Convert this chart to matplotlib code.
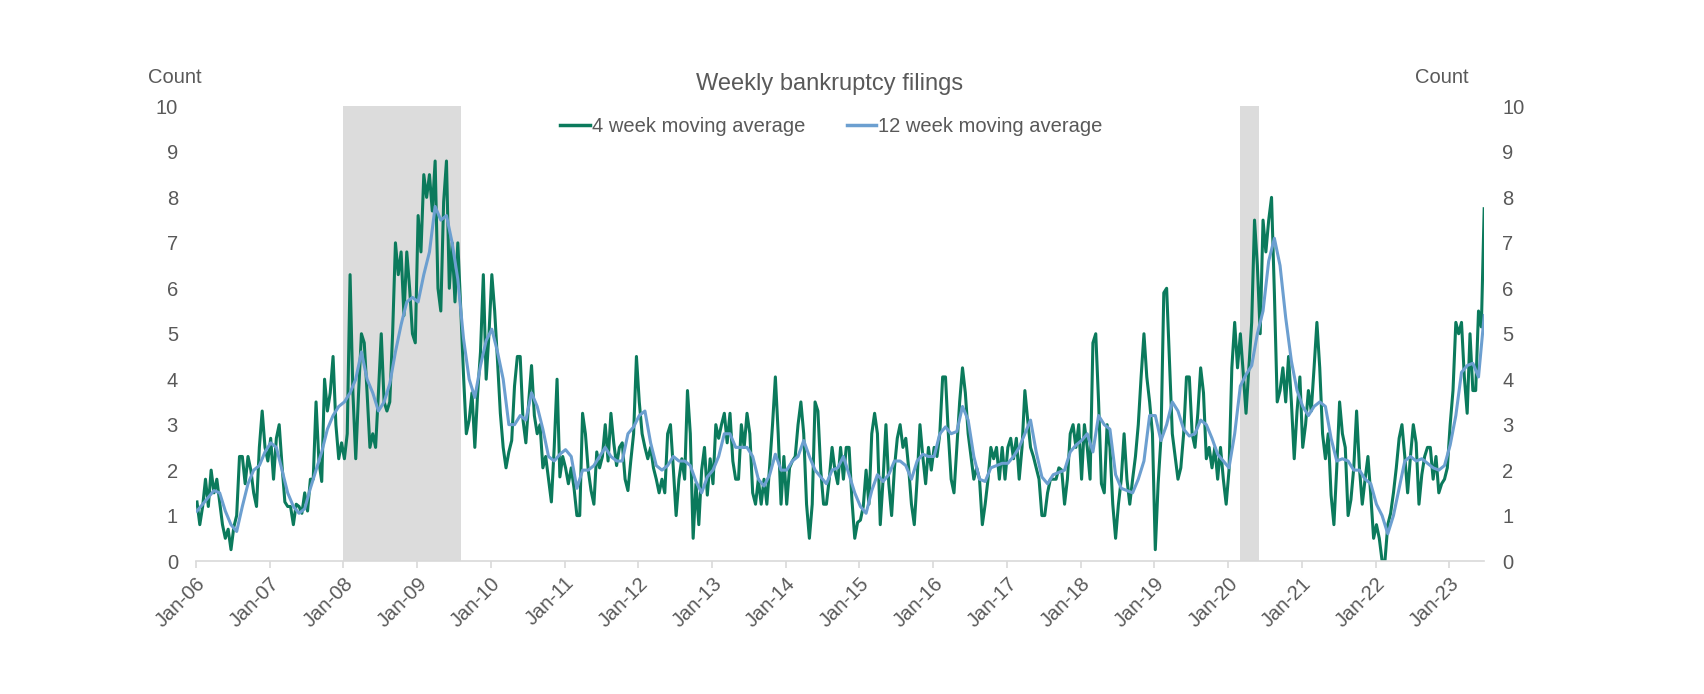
import matplotlib
matplotlib.use('Agg')
import matplotlib.pyplot as plt
import matplotlib.dates as mdates
import pandas as pd

plt.rcParams['font.family'] = ['Liberation Sans', 'DejaVu Sans']

# 4 week moving average, read off roughly every two weeks (one row per year)
ma4 = [
    1.3, 0.8, 1.2, 1.8, 1.2, 2.0, 1.5, 1.8, 1.3, 0.8, 0.5, 0.7, 0.25, 0.75, 1.0, 2.3, 2.3, 1.7, 2.3, 2.0, 1.5, 1.2, 2.5, 3.3, 2.5, 2.2,
    2.7, 1.8, 2.7, 3.0, 2.1, 1.3, 1.2, 1.2, 0.8, 1.25, 1.2, 1.05, 1.5, 1.1, 1.8, 1.8, 3.5, 2.2, 1.75, 4.0, 3.3, 3.7, 4.5, 3.0, 2.25, 2.6,
    2.25, 2.8, 6.3, 3.7, 2.25, 3.7, 5.0, 4.8, 3.7, 2.5, 2.8, 2.5, 3.7, 5.0, 3.5, 3.3, 3.5, 5.0, 7.0, 6.3, 6.8, 5.4, 6.8, 6.0, 5.0, 4.8,
    7.6, 6.8, 8.5, 8.0, 8.5, 7.7, 8.8, 6.0, 5.5, 7.9, 8.8, 6.0, 7.0, 5.7, 7.0, 5.6, 4.1, 2.8, 3.1, 3.7, 2.5, 3.7, 4.6, 6.3, 4.0, 5.0,
    6.3, 5.5, 4.4, 3.25, 2.5, 2.05, 2.4, 2.65, 3.85, 4.5, 4.5, 3.1, 2.6, 3.5, 4.3, 3.2, 2.8, 3.0, 2.05, 2.3, 1.8, 1.3, 2.5, 4.0, 1.85, 2.3,
    2.05, 1.7, 2.05, 1.6, 1.0, 1.0, 3.25, 2.8, 2.0, 1.55, 1.25, 2.4, 2.05, 2.3, 3.0, 2.2, 3.25, 2.6, 2.1, 2.5, 2.6, 1.8, 1.55, 2.2, 2.8, 4.5,
    3.5, 2.8, 2.5, 2.25, 2.5, 2.05, 1.8, 1.5, 1.8, 1.5, 2.8, 3.0, 2.05, 1.0, 1.8, 2.25, 1.8, 3.75, 2.8, 0.5, 1.7, 0.8, 2.0, 2.5, 1.45, 2.25,
    1.7, 3.0, 2.7, 3.0, 3.25, 2.6, 3.25, 2.2, 1.8, 1.8, 3.0, 2.5, 3.25, 2.8, 1.5, 1.25, 1.8, 1.25, 1.8, 1.25, 2.1, 3.0, 4.05, 2.8, 1.25, 2.3,
    1.25, 2.05, 2.2, 2.3, 3.0, 3.5, 2.8, 1.25, 0.5, 1.25, 3.5, 3.3, 2.0, 1.25, 1.25, 1.8, 2.5, 2.0, 1.7, 2.5, 1.8, 2.5, 2.5, 1.35, 0.5, 0.85,
    0.9, 1.2, 2.0, 1.25, 2.8, 3.25, 2.8, 0.8, 1.8, 3.0, 1.7, 1.0, 2.05, 2.7, 3.0, 2.5, 2.7, 2.05, 1.25, 0.8, 1.8, 3.0, 2.3, 1.7, 2.5, 2.0,
    2.5, 2.3, 2.8, 4.05, 4.05, 2.8, 1.8, 1.5, 2.5, 3.5, 4.25, 3.7, 2.8, 2.3, 1.8, 2.05, 1.8, 0.8, 1.25, 1.8, 2.5, 2.25, 2.5, 1.8, 2.5, 1.8,
    2.5, 2.7, 2.25, 2.7, 1.8, 2.5, 3.75, 3.1, 2.5, 2.3, 2.05, 1.8, 1.0, 1.0, 1.5, 1.8, 1.8, 1.8, 2.05, 2.0, 1.25, 1.8, 2.8, 3.0, 2.5, 3.0,
    1.8, 3.0, 2.5, 1.8, 4.8, 5.0, 3.5, 1.7, 1.5, 3.0, 2.5, 1.25, 0.5, 1.25, 1.8, 2.8, 1.8, 1.25, 1.8, 2.3, 3.0, 4.05, 5.0, 4.05, 3.5, 2.8,
    0.25, 1.7, 2.7, 5.9, 6.0, 4.4, 2.8, 2.3, 1.8, 2.05, 2.8, 4.05, 4.05, 2.8, 2.5, 3.25, 4.25, 3.7, 2.25, 2.5, 2.05, 2.5, 1.8, 2.5, 1.8, 1.25,
    2.0, 4.25, 5.25, 4.25, 5.0, 4.15, 3.25, 4.25, 5.25, 7.5, 6.5, 5.0, 7.5, 6.8, 7.5, 8.0, 5.9, 3.5, 3.75, 4.25, 3.5, 4.5, 3.5, 2.25, 3.3, 4.05,
    2.5, 3.0, 3.75, 3.3, 4.25, 5.25, 4.25, 2.8, 2.25, 2.8, 1.45, 0.8, 2.05, 3.5, 2.8, 2.5, 1.0, 1.35, 2.05, 3.3, 2.05, 1.25, 1.8, 2.3, 1.45, 0.5,
    0.8, 0.5, 0.0, 0.0, 0.8, 1.05, 1.5, 2.05, 2.7, 3.0, 2.3, 1.5, 2.3, 3.0, 2.6, 1.25, 1.9, 2.3, 2.5, 2.5, 1.8, 2.3, 1.5, 1.7, 1.8, 2.05,
    3.0, 3.75, 5.25, 5.0, 5.25, 4.05, 3.25, 5.0, 3.75, 3.75, 5.5, 5.15, 7.75,
]

# 12 week moving average, read off roughly every four weeks
ma12 = [
    1.1, 1.25, 1.4, 1.55, 1.5, 1.1, 0.8, 0.65, 1.2, 1.7, 2.0, 2.1, 2.4,
    2.6, 2.5, 2.0, 1.5, 1.2, 1.05, 1.15, 1.6, 2.0, 2.4, 2.9, 3.2, 3.4,
    3.5, 3.7, 4.0, 4.6, 4.0, 3.7, 3.3, 3.5, 3.9, 4.6, 5.2, 5.7, 5.8,
    5.7, 6.3, 6.8, 7.8, 7.5, 7.6, 7.0, 6.2, 4.9, 4.0, 3.6, 4.3, 4.85,
    5.1, 4.6, 4.0, 3.0, 3.0, 3.2, 3.1, 3.7, 3.4, 2.9, 2.3, 2.2, 2.35,
    2.45, 2.3, 1.6, 2.0, 2.0, 2.1, 2.3, 2.5, 2.3, 2.2, 2.2, 2.8, 2.95,
    3.2, 3.3, 2.6, 2.1, 2.0, 2.1, 2.3, 2.2, 2.2, 2.1, 1.75, 1.5, 1.85,
    2.0, 2.3, 2.8, 2.8, 2.5, 2.5, 2.5, 2.3, 1.8, 1.65, 1.9, 2.35, 2.0,
    2.0, 2.2, 2.3, 2.65, 2.3, 2.0, 1.85, 1.7, 2.0, 2.05, 2.3, 1.9, 1.5,
    1.2, 1.05, 1.55, 1.9, 1.75, 1.9, 2.2, 2.2, 2.1, 1.8, 2.2, 2.35, 2.3,
    2.3, 2.8, 2.95, 2.8, 2.85, 3.4, 3.1, 2.3, 1.8, 1.75, 2.05, 2.1, 2.15,
    2.15, 2.3, 2.5, 2.8, 3.1, 2.4, 1.85, 1.7, 1.9, 1.95, 2.0, 2.4, 2.55,
    2.65, 2.8, 2.4, 3.2, 3.0, 2.9, 1.9, 1.6, 1.55, 1.5, 1.8, 2.2, 3.2,
    3.2, 2.65, 3.0, 3.5, 3.3, 2.9, 2.75, 2.8, 3.1, 3.0, 2.7, 2.35, 2.2,
    2.05, 2.8, 3.85, 4.1, 4.3, 5.0, 5.5, 6.6, 7.1, 6.5, 5.35, 4.4, 3.75,
    3.4, 3.2, 3.4, 3.5, 3.4, 2.7, 2.2, 2.25, 2.2, 2.0, 2.0, 1.8, 1.7,
    1.25, 1.0, 0.6, 1.0, 1.6, 2.2, 2.3, 2.2, 2.25, 2.15, 2.05, 2.0, 2.1,
    2.55, 3.2, 4.15, 4.3, 4.35, 4.05, 5.4,
]

first_week = '2006-01-06'
last_week = '2023-06-23'
shaded = [('2008-01-01', '2009-08-05'), ('2020-03-01', '2020-06-01')]

dates4 = pd.date_range(first_week, last_week, periods=len(ma4))
dates12 = pd.date_range(first_week, last_week, periods=len(ma12))

grey = '#595959'
green = '#0B7A5C'
blue = '#6C9FD0'

fig = plt.figure(figsize=(17.04, 6.94), dpi=100)
ax = fig.add_axes([0.115, 0.1916, 0.756, 0.655])

for a, b in shaded:
    ax.axvspan(pd.Timestamp(a), pd.Timestamp(b), color='#DCDCDC', lw=0, zorder=0)

ax.plot(dates4, ma4, color=green, lw=2.2, label='4 week moving average', zorder=2)
ax.plot(dates12, ma12, color=blue, lw=2.2, label='12 week moving average', zorder=3)

ax.set_xlim(pd.Timestamp('2006-01-01'), pd.Timestamp(last_week))
ax.set_ylim(0, 10)
ax.set_yticks(range(0, 11))

ax.xaxis.set_major_locator(mdates.YearLocator())
ax.xaxis.set_major_formatter(mdates.DateFormatter('%b-%y'))
for lbl in ax.get_xticklabels():
    lbl.set_rotation(45)
    lbl.set_ha('right')
    lbl.set_rotation_mode('anchor')

for s in ['top', 'left', 'right']:
    ax.spines[s].set_visible(False)
ax.spines['bottom'].set_color('#D9D9D9')
ax.spines['bottom'].set_linewidth(1.2)

ax.tick_params(axis='x', colors='#D9D9D9', labelcolor=grey, labelsize=14.5,
               length=5, width=1.2, pad=4)
ax.tick_params(axis='y', length=0, labelcolor=grey, labelsize=14.5,
               labelleft=True, labelright=True, pad=13)

fig.text(0.487, 0.879, 'Weekly bankruptcy filings', ha='center', va='center',
         fontsize=17, color=grey)
fig.text(0.087, 0.888, 'Count', ha='left', va='center', fontsize=14.5, color=grey)
fig.text(0.862, 0.888, 'Count', ha='right', va='center', fontsize=14.5, color=grey)

leg = fig.legend(loc='center', bbox_to_anchor=(0.488, 0.818), ncol=2,
                 frameon=False, fontsize=14.5, handlelength=1.45,
                 handletextpad=0.1, columnspacing=2.1)
for t in leg.get_texts():
    t.set_color(grey)
for h in leg.get_lines():
    h.set_linewidth(2.5)

fig.savefig('out.png', dpi=100, facecolor='white')
